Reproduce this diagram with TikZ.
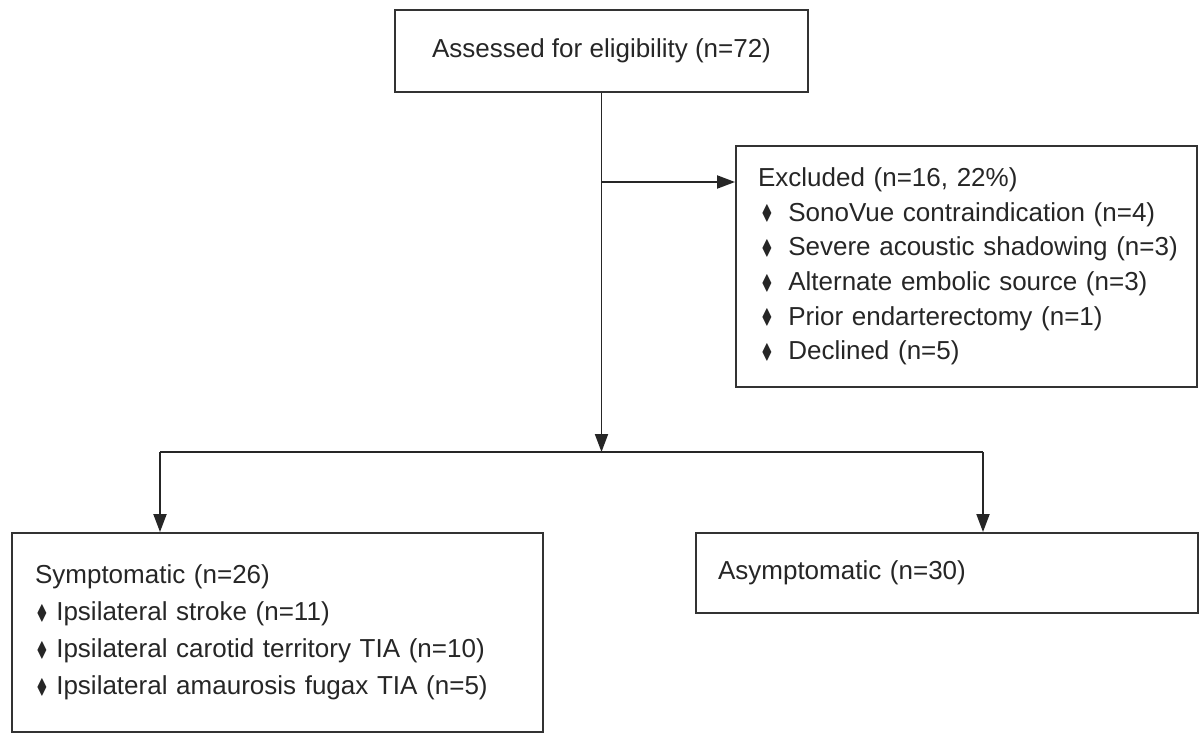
\documentclass[tikz,border=0pt]{standalone}
\usepackage{amssymb}
\usepackage{fontspec}
\setmainfont{Liberation Sans}
\usetikzlibrary{arrows.meta}

\newcommand{\dmd}{\raisebox{0.1ex}{\scalebox{0.62}[0.8]{$\blacklozenge$}}}
\newcommand{\exitem}[1]{\mbox{\hspace*{0.07cm}\dmd\hspace{0.32cm}#1}}
\newcommand{\syitem}[1]{\mbox{\hspace*{0.03cm}\dmd\hspace{0.18cm}#1}}

\tikzset{
  box/.style={draw=black!80, line width=1.1pt, text=black!85, inner sep=0pt},
  line/.style={draw=black!85, line width=1.1pt},
  arr/.style={line, -{Triangle[length=0.36cm, width=0.26cm]}}
}

\begin{document}
\begin{tikzpicture}[x=0.02cm, y=-0.02cm]
\useasboundingbox (0,0) rectangle (1204,734);

% Boxes
\node[box, minimum width=8.26cm, minimum height=1.64cm,
      font=\fontsize{14.8}{18}\selectfont] (assess) at (601.5,51) {Assessed for eligibility (n=72)};

\node[box, minimum width=9.22cm, minimum height=4.82cm, text width=8.34cm, align=left,
      font=\fontsize{14.8}{19.7}\selectfont] (excl) at (966.5,266.5)
  {Excluded (n=16, 22\%)\\
   \exitem{SonoVue contraindication (n=4)}\\
   \exitem{Severe acoustic shadowing (n=3)}\\
   \exitem{Alternate embolic source (n=3)}\\
   \exitem{Prior endarterectomy (n=1)}\\
   \exitem{Declined (n=5)}};

\node[box, minimum width=10.62cm, minimum height=3.98cm, text width=9.7cm, align=left,
      font=\fontsize{14.8}{21}\selectfont] (sympt) at (277.5,632.5)
  {Symptomatic (n=26)\\
   \syitem{Ipsilateral stroke (n=11)}\\
   \syitem{Ipsilateral carotid territory TIA (n=10)}\\
   \syitem{Ipsilateral amaurosis fugax TIA (n=5)}};

\node[box, minimum width=10.04cm, minimum height=1.6cm, text width=9.16cm, align=left,
      font=\fontsize{14.8}{18}\selectfont] (asympt) at (947,573) {Asymptomatic (n=30)};

% Branch points
\coordinate (tap) at (601.5,182);
\coordinate (split) at (601.5,452);
\coordinate (lft) at (160,452);
\coordinate (rgt) at (983,452);

% Arrows
\draw[arr] (assess.south) -- (split);
\draw[arr] (tap) -- (tap -| excl.west);
\draw[line] (lft) -- (rgt);
\draw[arr] (lft) -- (lft |- sympt.north);
\draw[arr] (rgt) -- (rgt |- asympt.north);

\end{tikzpicture}
\end{document}
